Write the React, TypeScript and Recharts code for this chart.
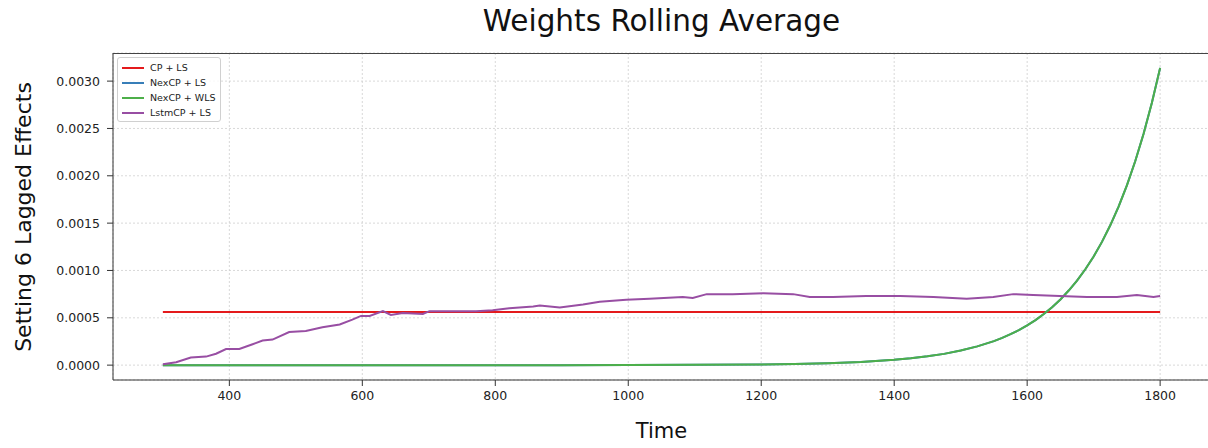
import { LineChart, Line, XAxis, YAxis, CartesianGrid } from "recharts";

const xTicks = [400, 600, 800, 1000, 1200, 1400, 1600, 1800];
const yTicks = [0, 0.0005, 0.001, 0.0015, 0.002, 0.0025, 0.003];

const cpTimes = [300, 1800];
const cpValues = [0.00056, 0.00056];

const nexTimes = [300, 400, 500, 600, 700, 800, 900, 1000, 1100, 1200, 1250, 1300, 1350, 1400, 1425, 1450, 1475, 1500, 1525, 1550, 1562.5, 1575, 1587.5, 1600, 1612.5, 1625, 1637.5, 1650, 1662.5, 1675, 1687.5, 1700, 1712.5, 1725, 1737.5, 1750, 1762.5, 1775, 1787.5, 1800];
const nexLsValues = [0, 0, 0, 0, 0, 0, 0, 0.000001, 0.0000028, 0.0000075, 0.0000124, 0.000021, 0.000034, 0.000056, 0.0000722, 0.000093, 0.000119, 0.000154, 0.000198, 0.000254, 0.000288, 0.000327, 0.00037, 0.00042, 0.000476, 0.00054, 0.000612, 0.000694, 0.000788, 0.000893, 0.001013, 0.001148, 0.001302, 0.001477, 0.001675, 0.001899, 0.002153, 0.002442, 0.002769, 0.00314];
const nexWlsValues = [0, 0, 0, 0, 0, 0, 0, 0.000001, 0.0000028, 0.0000075, 0.0000124, 0.000021, 0.000034, 0.000056, 0.0000722, 0.000093, 0.000119, 0.000154, 0.000198, 0.000254, 0.000288, 0.000327, 0.00037, 0.00042, 0.000476, 0.00054, 0.000612, 0.000694, 0.000788, 0.000893, 0.001013, 0.001148, 0.001302, 0.001477, 0.001675, 0.001899, 0.002153, 0.002442, 0.002769, 0.00314];

const lstmTimes = [300, 320, 342, 365, 380, 395, 415, 435, 450, 465, 490, 515, 540, 566, 585, 598, 611, 631, 643, 661, 691, 701, 726, 771, 796, 821, 857, 867, 897, 932, 957, 997, 1032, 1082, 1097, 1118, 1157, 1203, 1248, 1273, 1308, 1358, 1409, 1459, 1509, 1549, 1579, 1609, 1649, 1690, 1735, 1765, 1790, 1800];
const lstmValues = [0.00001, 0.00003, 0.00008, 0.00009, 0.00012, 0.00017, 0.00017, 0.00022, 0.00026, 0.00027, 0.00035, 0.00036, 0.0004, 0.00043, 0.00048, 0.00052, 0.00052, 0.00057, 0.00053, 0.00055, 0.00054, 0.00057, 0.00057, 0.00057, 0.00058, 0.0006, 0.00062, 0.00063, 0.00061, 0.00064, 0.00067, 0.00069, 0.0007, 0.00072, 0.00071, 0.00075, 0.00075, 0.00076, 0.00075, 0.00072, 0.00072, 0.00073, 0.00073, 0.00072, 0.0007, 0.00072, 0.00075, 0.00074, 0.00073, 0.00072, 0.00072, 0.00074, 0.00072, 0.00073];

const toRows = (t: number[], v: number[]) => t.map((time, i) => ({ time, value: v[i] }));

const series = [
  { name: "CP + LS", color: "#e41a1c", data: toRows(cpTimes, cpValues) },
  { name: "NexCP + LS", color: "#377eb8", data: toRows(nexTimes, nexLsValues) },
  { name: "NexCP + WLS", color: "#4daf4a", data: toRows(nexTimes, nexWlsValues) },
  { name: "LstmCP + LS", color: "#984ea3", data: toRows(lstmTimes, lstmValues) },
];

const font = "'DejaVu Sans', sans-serif";

// legend drawn as plain html so it doesn't eat into the plot area
function LegendBox() {
  return (
    <div
      style={{
        position: "absolute",
        left: 117,
        top: 57,
        width: 94,
        border: "1px solid #d0d0d0",
        borderRadius: 3,
        background: "rgba(255,255,255,0.8)",
        padding: "2px 4px 1px 4px",
        fontFamily: font,
        fontSize: 9.5,
        color: "#222",
      }}
    >
      {series.map((s) => (
        <div key={s.name} style={{ display: "flex", alignItems: "center", height: 15, whiteSpace: "nowrap" }}>
          <span style={{ display: "inline-block", width: 22, height: 2, background: s.color, marginRight: 6 }} />
          {s.name}
        </div>
      ))}
    </div>
  );
}

export default function App() {
  return (
    <div style={{ position: "absolute", left: 0, top: 0, width: 1208, height: 448, background: "#fff", fontFamily: font, overflow: "hidden" }}>
      <div style={{ position: "absolute", left: 113, width: 1097, top: 4, textAlign: "center", fontSize: 29.5, color: "#111" }}>
        Weights Rolling Average
      </div>
      <div
        style={{
          position: "absolute",
          left: 23,
          top: 217,
          transform: "translate(-50%, -50%) rotate(-90deg)",
          whiteSpace: "nowrap",
          fontSize: 22,
          color: "#111",
        }}
      >
        Setting 6 Lagged Effects
      </div>
      <div style={{ position: "absolute", left: 113, width: 1097, top: 419, textAlign: "center", fontSize: 21, color: "#111" }}>
        Time
      </div>
      <LineChart width={1210} height={448} data={series[0].data} margin={{ top: 53, right: 0, bottom: 0, left: 0 }}>
        <CartesianGrid stroke="#cfcfcf" strokeDasharray="2 2" strokeWidth={0.8} />
        <XAxis
          dataKey="time"
          type="number"
          domain={[225, 1875]}
          ticks={xTicks}
          height={68}
          tickSize={6}
          tickMargin={5}
          stroke="#333"
          tick={{ fill: "#222", fontSize: 12.5, fontFamily: font }}
          allowDuplicatedCategory={false}
        />
        <YAxis
          type="number"
          domain={[-0.000157, 0.003297]}
          ticks={yTicks}
          width={113}
          tickSize={6}
          tickMargin={7}
          stroke="#333"
          tickFormatter={(v: number) => v.toFixed(4)}
          tick={{ fill: "#222", fontSize: 12.5, fontFamily: font }}
        />
        {series.map((s) => (
          <Line
            key={s.name}
            data={s.data}
            dataKey="value"
            name={s.name}
            stroke={s.color}
            strokeWidth={2}
            dot={false}
            isAnimationActive={false}
          />
        ))}
      </LineChart>
      <div style={{ position: "absolute", left: 113, top: 53, width: 1100, height: 0, borderTop: "1px solid #444" }} />
      <LegendBox />
    </div>
  );
}
